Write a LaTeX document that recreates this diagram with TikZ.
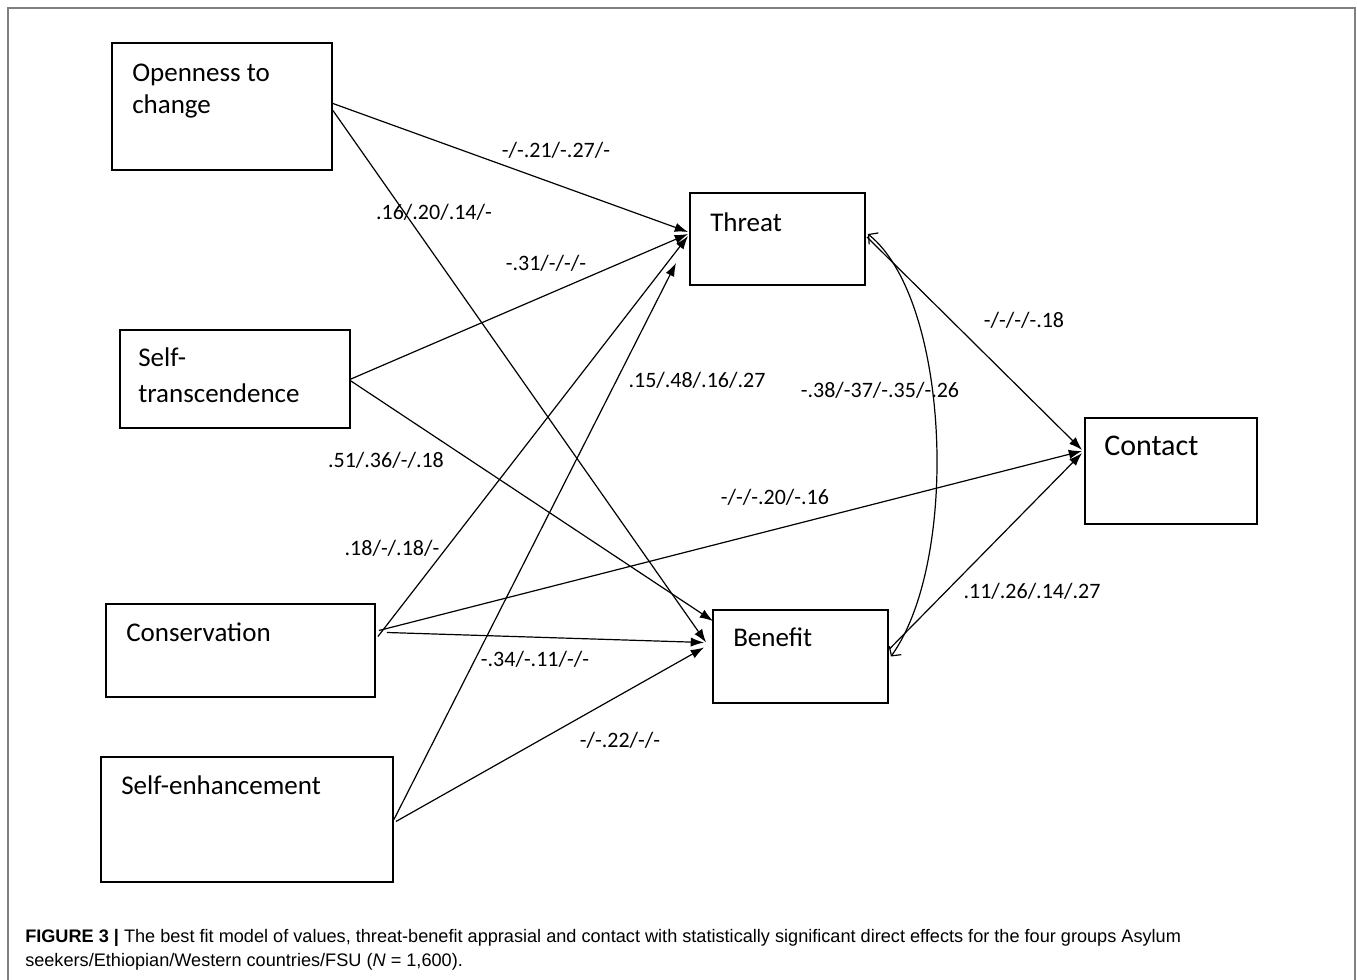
\documentclass[tikz,border=0pt]{standalone}
\usepackage{fontspec}
\setmainfont{Carlito}
\newfontfamily\capfont{Liberation Sans}
\usetikzlibrary{arrows.meta,calc,fit}

\begin{document}
\begin{tikzpicture}[x=0.75pt,y=-0.75pt,
  box/.style={draw, line width=1.4pt, inner sep=0pt},
  boxtext/.style={anchor=west, inner sep=0pt, align=left,
    font=\fontsize{20.25}{24}\selectfont},
  coef/.style={inner sep=0pt, font=\fontsize{16.5}{20}\selectfont},
  conn/.style={line width=0.9pt, -{Latex[length=10pt,width=7pt]}},
  corr/.style={line width=0.9pt,
    {Straight Barb[length=5pt,width=11pt]}-{Straight Barb[length=5pt,width=11pt]}},
  captext/.style={anchor=west, inner sep=0pt,
    font=\capfont\fontsize{13.6}{16}\selectfont}
]
\useasboundingbox (0,0) rectangle (1357,980);

% outer frame
\draw[line width=1.5pt, black!50] (8,980) -- (8,8) -- (1355,8) -- (1355,980);

% value boxes
\node[box, fit={(112,43) (332,170)}] (open) {};
\node[box, fit={(120,330) (350,428)}] (trans) {};
\node[box, fit={(106,604) (375,697)}] (cons) {};
\node[box, fit={(101,757) (393,882)}] (enh) {};
% appraisal and outcome boxes
\node[box, fit={(690,193) (865,285)}] (threat) {};
\node[box, fit={(713,610) (888,703)}] (benefit) {};
\node[box, fit={(1085,418) (1257,524)}] (contact) {};

% box captions
\node[boxtext] (openT) at (132,91) {Openness to\\change};
\node[boxtext] (transT) at (138,375) {Self-\\[3pt]transcendence};
\node[boxtext] (consT) at (126,632) {Conservation};
\node[boxtext] (enhT) at (121,785) {Self-enhancement};
\node[boxtext] (threatT) at (710,222) {Threat};
\node[boxtext] (benefitT) at (733,637) {Benefit};
\node[boxtext, font=\fontsize{22.5}{26}\selectfont] (contactT) at (1104,446) {Contact};

% paths into Threat
\draw[conn] ($(open.east)+(0,-3)$) -- ($(threat.west)+(-1,-7)$);
\draw[conn] (trans.east) -- ($(threat.west)+(-1,-5)$);
\draw[conn] ($(cons.east)+(2,-14)$) -- ($(threat.west)+(-1,-3)$);
\draw[conn] (enh.east) -- ($(threat.south west)+(-13,-23)$);

% paths into Benefit
\draw[conn] ($(open.east)+(0,4)$) -- ($(benefit.west)+(-6,-14)$);
\draw[conn] ($(trans.east)+(0,2)$) -- ($(benefit.north west)+(1,12)$);
\draw[conn] ($(cons.east)+(11,-18)$) -- ($(benefit.west)+(-8,-14)$);
\draw[conn] ($(enh.east)+(2,2)$) -- ($(benefit.west)+(-8,-9)$);

% paths into Contact
\draw[conn] ($(cons.east)+(3,-20)$) -- ($(contact.west)+(-2,-20)$);
\draw[conn] ($(threat.east)+(1,-2)$) -- ($(contact.west)+(-2,-21)$);
\draw[conn] ($(benefit.east)+(1,-8)$) -- ($(contact.west)+(-2,-18)$);

% threat-benefit covariance
\draw[corr] ($(threat.east)+(2,-5)$) .. controls (950,300) and (960,560) .. ($(benefit.east)+(2,0)$);

% path coefficients
\node[coef] (c1) at (556,150) {-/-.21/-.27/-};
\node[coef] (c2) at (434,212) {.16/.20/.14/-};
\node[coef] (c3) at (546,263) {-.31/-/-/-};
\node[coef] (c4) at (697,380) {.15/.48/.16/.27};
\node[coef] (c5) at (880,390) {-.38/-37/-.35/-.26};
\node[coef] (c6) at (1024,320) {-/-/-/-.18};
\node[coef] (c7) at (386,460) {.51/.36/-/.18};
\node[coef] (c8) at (775,497) {-/-/-.20/-.16};
\node[coef] (c9) at (392,548) {.18/-/.18/-};
\node[coef] (c10) at (535,659) {-.34/-.11/-/-};
\node[coef] (c11) at (620,740) {-/-.22/-/-};
\node[coef] (c12) at (1032,591) {.11/.26/.14/.27};

% figure caption
\node[captext] (cap1) at (25,938) {\textbf{FIGURE 3 |} The best fit model of values, threat-benefit apprasial and contact with statistically significant direct effects for the four groups Asylum};
\node[captext] (cap2) at (25,962) {seekers/Ethiopian/Western countries/FSU (\textit{N} = 1,600).};
\end{tikzpicture}
\end{document}
